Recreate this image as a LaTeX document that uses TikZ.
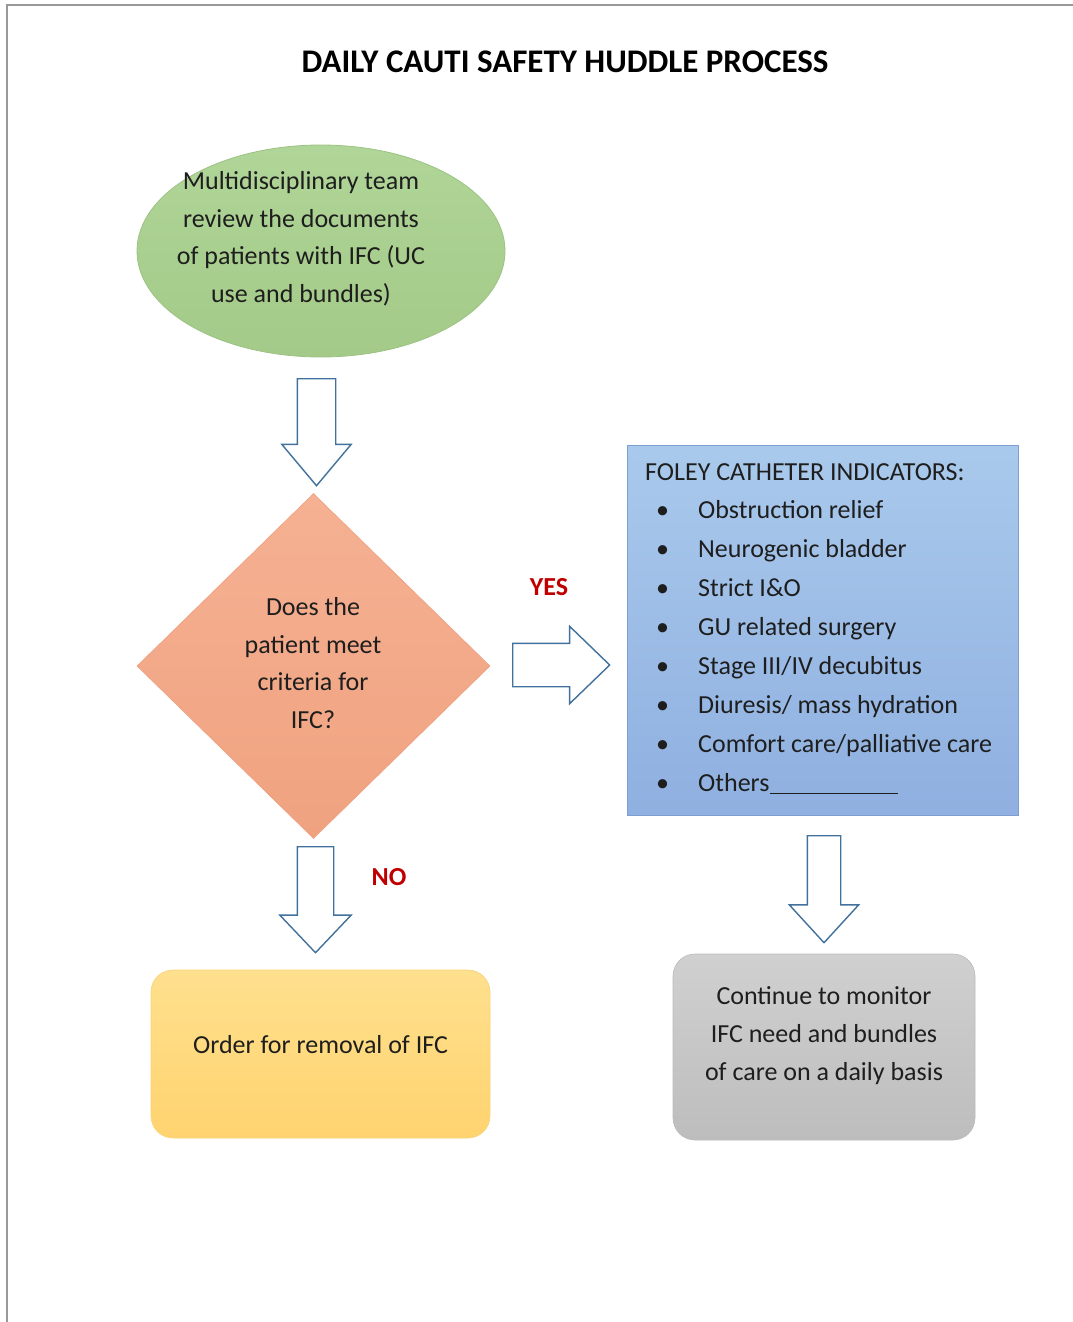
\documentclass[tikz,border=0pt]{standalone}
\usepackage{fontspec}
\setmainfont{Carlito}
\usetikzlibrary{shapes.geometric,shapes.arrows}
\definecolor{txt}{HTML}{1E1E1E}
\definecolor{arrowline}{HTML}{41719C}
\definecolor{redtxt}{HTML}{C00000}
\definecolor{greenA}{HTML}{B0D598}
\definecolor{greenB}{HTML}{A3CA88}
\definecolor{greenD}{HTML}{9CC283}
\definecolor{salA}{HTML}{F5B193}
\definecolor{salB}{HTML}{F0A27F}
\definecolor{salD}{HTML}{EE9F80}
\definecolor{blueA}{HTML}{A9C9EC}
\definecolor{blueB}{HTML}{8FB0E0}
\definecolor{blueD}{HTML}{7C9FD0}
\definecolor{orA}{HTML}{FFE08E}
\definecolor{orB}{HTML}{FFD36F}
\definecolor{orD}{HTML}{F8D37A}
\definecolor{grA}{HTML}{D0D0D0}
\definecolor{grB}{HTML}{BDBDBD}
\definecolor{grD}{HTML}{BBBBBB}
\begin{document}
\begin{tikzpicture}[x=1pt,y=-1pt,
  body/.style={font=\fontsize{26}{37.5}\selectfont, text=txt, align=center, inner sep=0pt},
  blockarrow/.style={single arrow, draw=arrowline, fill=white, line width=1.4pt,
    single arrow head indent=0pt, inner xsep=0pt, text height=0pt, text depth=0pt},
  flag/.style={font=\bfseries\fontsize{26}{30}\selectfont, text=redtxt, inner sep=0pt}]
\useasboundingbox (0,0) rectangle (1073,1322);
% frame
\draw[draw=black!40, line width=2pt] (7,1322) -- (7,5) -- (1073,5);
% title
\node[font=\bfseries\fontsize{33}{36}\selectfont, text=black, inner sep=0pt] (title) at (565,62) {DAILY CAUTI SAFETY HUDDLE PROCESS};
% start ellipse
\node[ellipse, minimum width=368pt, minimum height=212pt, inner sep=0pt,
  top color=greenA, bottom color=greenB, draw=greenD, line width=0.8pt] (start) at (321,251) {};
\node[body] (starttext) at (301,239) {Multidisciplinary team\\review the documents\\of patients with IFC (UC\\use and bundles)};
% arrow 1
\node[blockarrow, rotate=-90, anchor=tail, minimum height=107pt, inner ysep=18.5pt,
  single arrow head extend=15.5pt, single arrow tip angle=80] (a1) at (316.5,378) {};
% decision diamond
\node[diamond, minimum width=353pt, minimum height=345pt, inner sep=0pt,
  top color=salA, bottom color=salB, draw=salD, line width=0.6pt] (dec) at (313.5,666) {};
\node[body] (dectext) at (313,663) {Does the\\patient meet\\criteria for\\IFC?};
% yes arrow
\node[blockarrow, anchor=tail, minimum height=97pt, inner ysep=21pt,
  single arrow head extend=17pt, single arrow tip angle=88] (a2) at (512,665) {};
\node[flag] (yes) at (549,587) {YES};
% indicators box
\node[rectangle, minimum width=391pt, minimum height=370pt, inner sep=0pt,
  top color=blueA, bottom color=blueB, draw=blueD, line width=0.8pt] (ind) at (822.5,630) {};
\node[body, align=left, anchor=north west, font=\fontsize{26}{38.9}\selectfont] (indtext) at (645,463)
  {FOLEY CATHETER INDICATORS:\\
   \hspace*{11pt}\makebox[42pt][l]{\textbullet}Obstruction relief\\
   \hspace*{11pt}\makebox[42pt][l]{\textbullet}Neurogenic bladder\\
   \hspace*{11pt}\makebox[42pt][l]{\textbullet}Strict I\&O\\
   \hspace*{11pt}\makebox[42pt][l]{\textbullet}GU related surgery\\
   \hspace*{11pt}\makebox[42pt][l]{\textbullet}Stage III/IV decubitus\\
   \hspace*{11pt}\makebox[42pt][l]{\textbullet}Diuresis/ mass hydration\\
   \hspace*{11pt}\makebox[42pt][l]{\textbullet}Comfort care/palliative care\\
   \hspace*{11pt}\makebox[42pt][l]{\textbullet}Others\rule[-3pt]{128pt}{1.2pt}};
% no arrow
\node[blockarrow, rotate=-90, anchor=tail, minimum height=106pt, inner ysep=17.5pt,
  single arrow head extend=17.5pt, single arrow tip angle=87] (a3) at (315.5,846) {};
\node[flag] (no) at (389,877) {NO};
% removal box
\node[rectangle, rounded corners=22pt, minimum width=339pt, minimum height=168pt, inner sep=0pt,
  top color=orA, bottom color=orB, draw=orD, line width=0.6pt] (remove) at (320.5,1054) {};
\node[body] (removetext) at (320.5,1045) {Order for removal of IFC};
% arrow 4
\node[blockarrow, rotate=-90, anchor=tail, minimum height=107pt, inner ysep=16pt,
  single arrow head extend=18pt, single arrow tip angle=85] (a4) at (824,835) {};
% monitor box
\node[rectangle, rounded corners=22pt, minimum width=302pt, minimum height=186pt, inner sep=0pt,
  top color=grA, bottom color=grB, draw=grD, line width=0.6pt] (monitor) at (824,1047) {};
\node[body, font=\fontsize{26}{38}\selectfont] (monitortext) at (824,1036) {Continue to monitor\\IFC need and bundles\\of care on a daily basis};
\end{tikzpicture}
\end{document}
